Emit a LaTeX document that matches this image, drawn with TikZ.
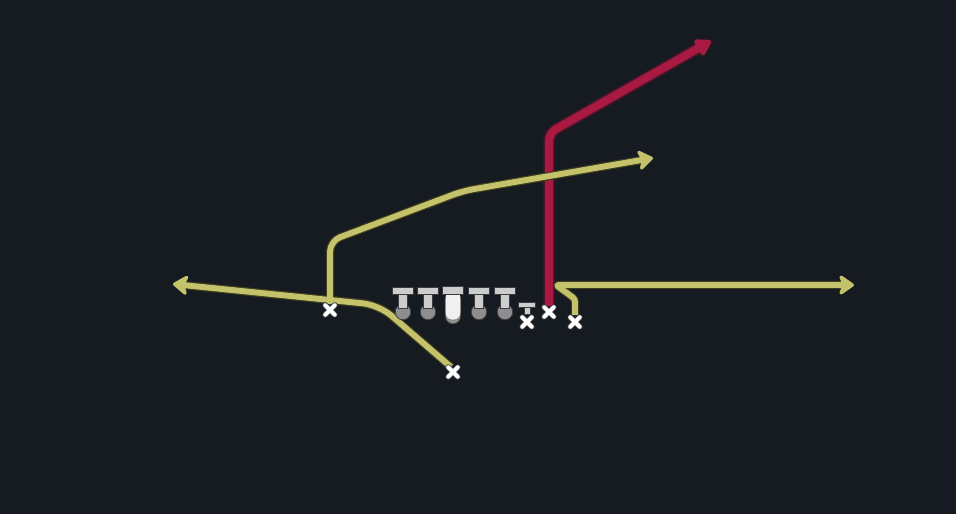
\documentclass[tikz,border=0pt]{standalone}
\usetikzlibrary{arrows.meta}
\definecolor{bg}{HTML}{161A21}
\definecolor{route}{HTML}{C4C36C}
\definecolor{routedark}{HTML}{3E3E1E}
\definecolor{hot}{HTML}{A81A42}
\definecolor{hotglow}{HTML}{4A1528}
\definecolor{lineman}{HTML}{CDCDCD}
\definecolor{ballgray}{HTML}{8E8E8E}
\definecolor{figedge}{HTML}{3A3C40}
\tikzset{
  yarrow/.style={-{Stealth[length=13pt,width=18pt,inset=3.5pt,round]}},
  yroute/.style={draw=route,line width=4.4pt,line join=round,yarrow},
  yunder/.style={draw=routedark,line width=6.2pt,line join=round,yarrow},
  rarrow/.style={-{Triangle[length=13pt,width=15pt,round]}},
  rroute/.style={draw=hot,line width=6pt,rounded corners=6pt,line join=round,rarrow},
  runder/.style={draw=hotglow,line width=8.4pt,rounded corners=6pt,line join=round,rarrow},
  xmark/.pic={
    \draw[figedge,line width=4.4pt,line cap=round] (-4.8,-4.8)--(4.8,4.8) (-4.8,4.8)--(4.8,-4.8);
    \draw[white,line width=3pt,line cap=round] (-4.8,-4.8)--(4.8,4.8) (-4.8,4.8)--(4.8,-4.8);
  },
  blocker/.pic={
    \fill[ballgray,draw=figedge,line width=0.6pt] (0,25) circle[radius=7.8];
    \fill[lineman,draw=figedge,line width=0.6pt] (-4.2,7) rectangle (4.2,21);
    \fill[lineman,draw=figedge,line width=0.6pt] (-10.5,0) rectangle (10.5,7);
  },
  centerman/.pic={
    \fill[ballgray,draw=figedge,line width=0.6pt,rounded corners=6pt] (-7.8,4) rectangle (7.8,37);
    \fill[white!94!black,rounded corners=5pt] (-7.3,4) rectangle (7.3,32.5);
    \fill[lineman,draw=figedge,line width=0.6pt] (-10.5,-1) rectangle (10.5,7);
  },
  endman/.pic={
    \fill[lineman,draw=figedge,line width=0.6pt] (-3,5) rectangle (3,12);
    \fill[lineman,draw=figedge,line width=0.6pt] (-8.5,0) rectangle (8.5,5);
  }
}
\begin{document}
\begin{tikzpicture}[x=0.75pt,y=-0.75pt]
\fill[bg] (0,0) rectangle (956,514);
\useasboundingbox (0,0) rectangle (956,514);

% players
\coordinate (lt) at (403,287);
\coordinate (lg) at (428,287);
\coordinate (c)  at (453,287);
\coordinate (rg) at (479,287);
\coordinate (rt) at (505,287);
\coordinate (te) at (527,302);
\coordinate (wl) at (330,310);
\coordinate (rb) at (453,372);
\coordinate (sr) at (549,312);
\coordinate (sl) at (575,322);
\coordinate (tex) at (527,322);

% route vertices
\coordinate (a0) at (330,304);
\coordinate (a1) at (330,241);
\coordinate (a2) at (463,191);
\coordinate (a3) at (653,158);
\coordinate (b0) at (451,367);
\coordinate (b1) at (379,305);
\coordinate (b2) at (173,284);
\coordinate (c0) at (549,306);
\coordinate (c1) at (549,133);
\coordinate (c2) at (711,41);
\coordinate (d0) at (575,315);
\coordinate (d1) at (575,299);
\coordinate (d2) at (556,285);
\coordinate (d3) at (854,285);

% red route (under the yellow crossing)
\draw[runder] (c0) -- (c1) -- (c2);
\draw[rroute] (c0) -- (c1) -- (c2);

% yellow routes
\draw[yunder,rounded corners=8pt] (a0) -- (a1) -- (a2) -- (a3);
\draw[yunder,rounded corners=12pt] (b0) -- (b1) -- (b2);
\draw[yunder,rounded corners=2pt] (d0) -- (d1) -- (d2) -- (d3);
\draw[yroute,rounded corners=8pt] (a0) -- (a1) -- (a2) -- (a3);
\draw[yroute,rounded corners=12pt] (b0) -- (b1) -- (b2);
\draw[yroute,rounded corners=2pt] (d0) -- (d1) -- (d2) -- (d3);

% figures
\pic at (lt) {blocker};
\pic at (lg) {blocker};
\pic at (c) {centerman};
\pic at (rg) {blocker};
\pic at (rt) {blocker};
\pic at (te) {endman};
\pic at (tex) {xmark};
\pic at (wl) {xmark};
\pic at (rb) {xmark};
\pic at (sr) {xmark};
\pic at (sl) {xmark};
\end{tikzpicture}
\end{document}
